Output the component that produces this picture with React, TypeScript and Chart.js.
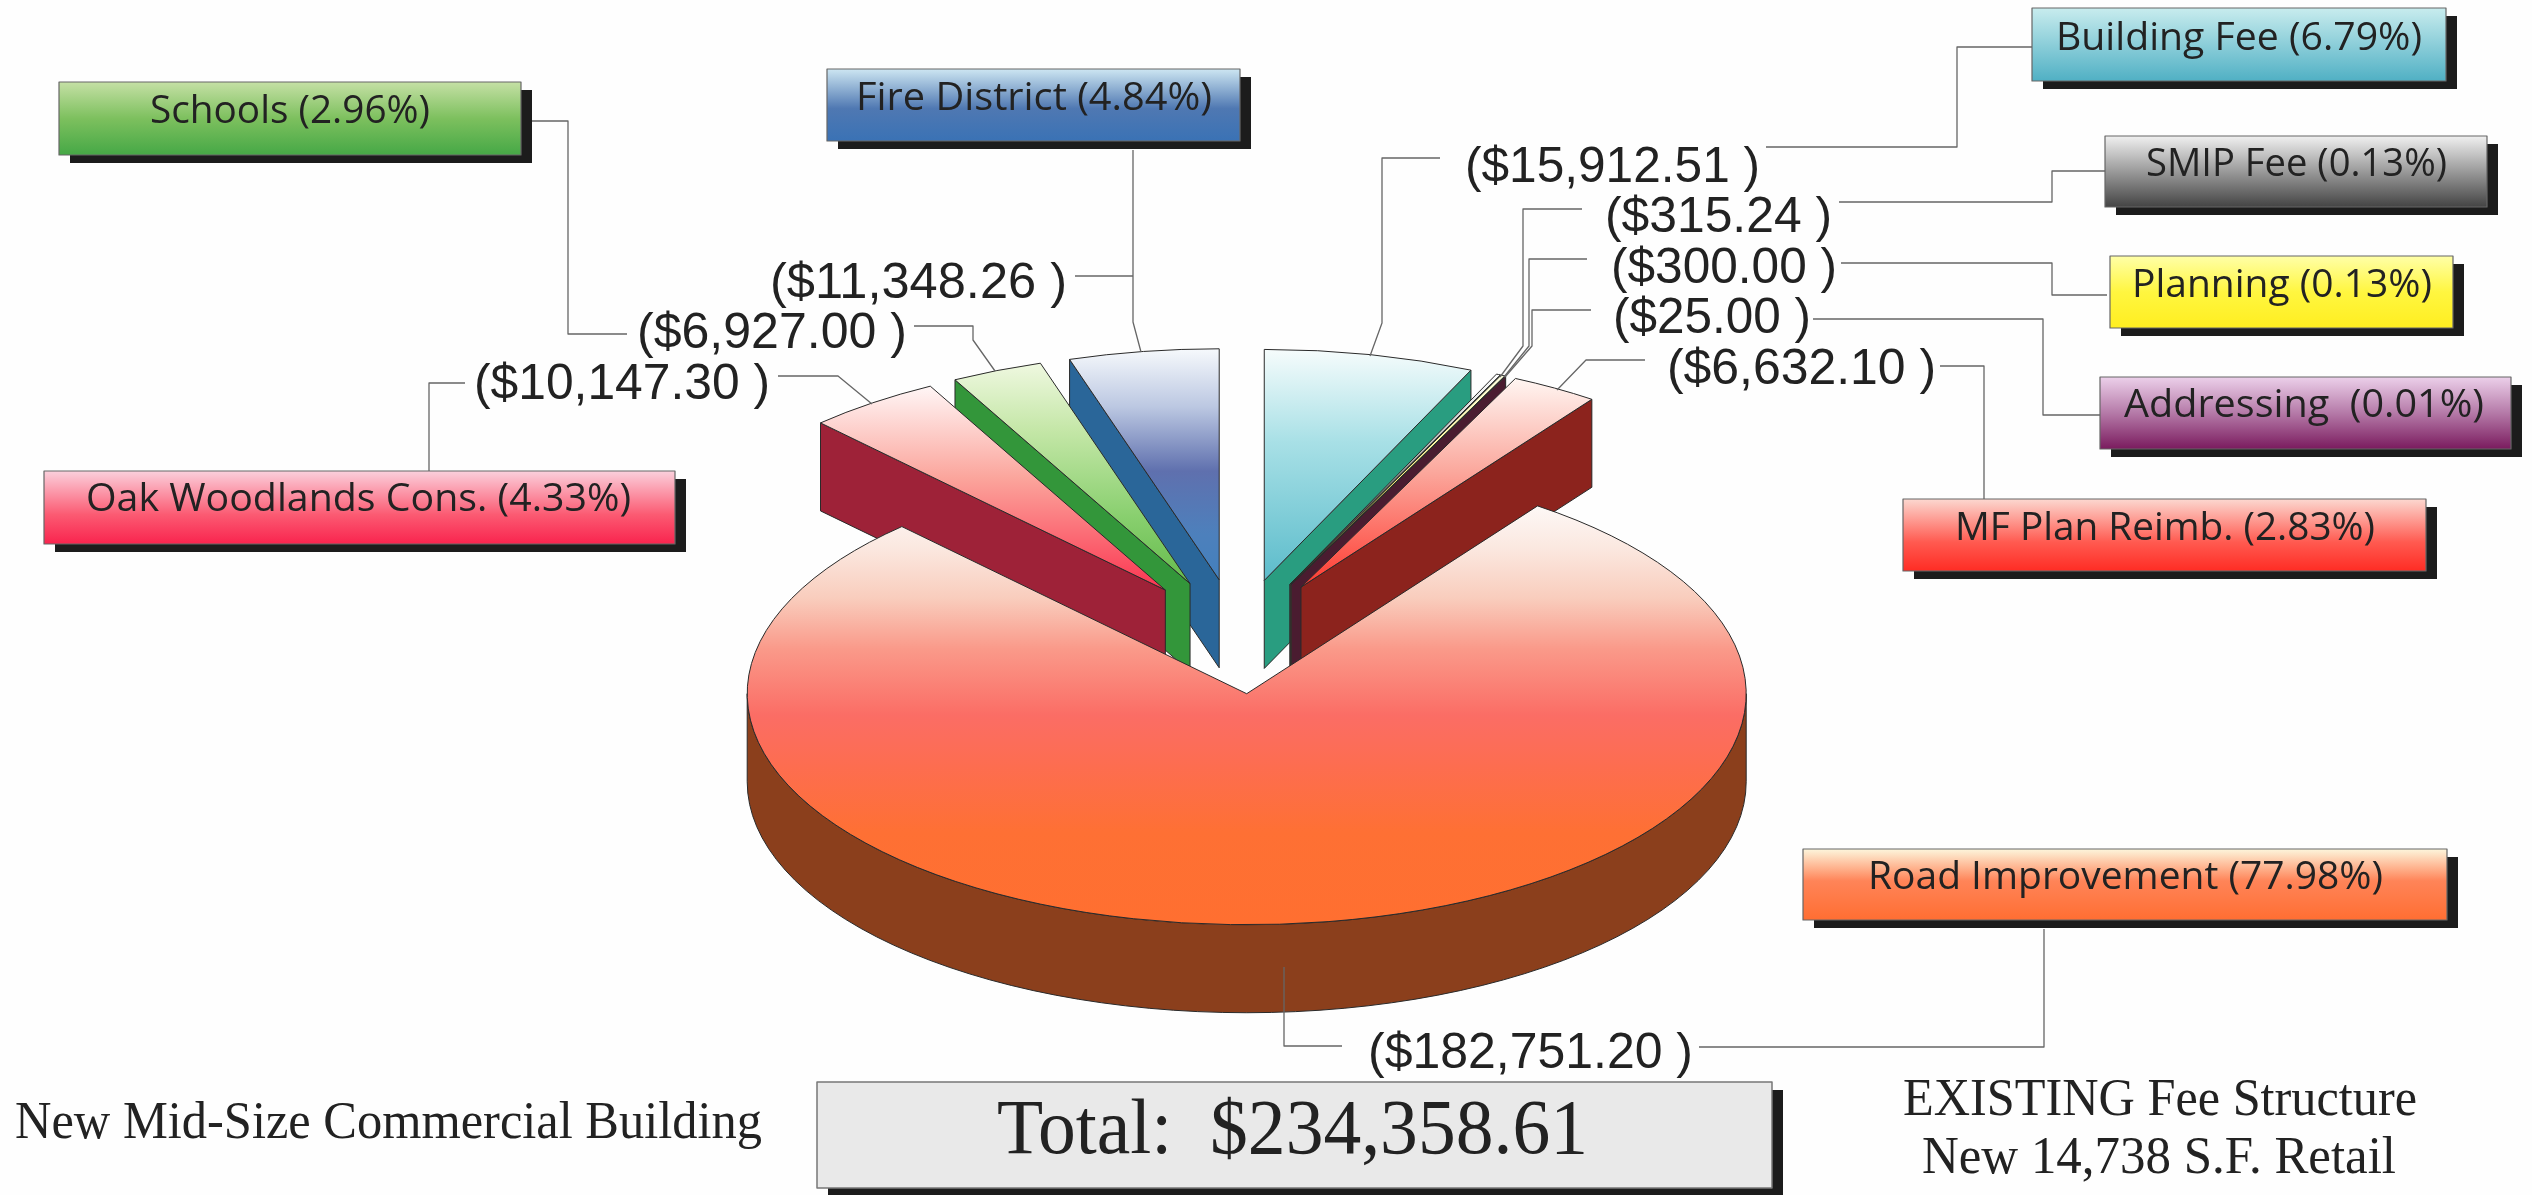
import React, { useEffect, useRef } from "react";
import { Chart, registerables } from "chart.js";

Chart.register(...registerables);

// ---- data ----
const categories = ["Building Fee", "SMIP Fee", "Planning", "Addressing ", "MF Plan Reimb.", "Road Improvement", "Oak Woodlands Cons.", "Schools", "Fire District"];
const feeValues = [15912.51, 315.24, 300.0, 25.0, 6632.1, 182751.2, 10147.3, 6927.0, 11348.26];
const percentLabels = ["6.79", "0.13", "0.13", "0.01", "2.83", "77.98", "4.33", "2.96", "4.84"];
const totalLabel = "Total:  $234,358.61";
const captionLeft = "New Mid-Size Commercial Building";
const captionRight = ["EXISTING Fee Structure", "New 14,738 S.F. Retail"];

// ---- styles ----
const topStops: [number, string][][] = [
  [[0, "#f6fcfc"], [0.4, "#a8e0e6"], [1, "#5cbccb"]],
  [[0, "#ffffff"], [1, "#444444"]],
  [[0, "#ffffe0"], [1, "#ffee20"]],
  [[0, "#f2dcf0"], [1, "#7a1b5e"]],
  [[0, "#fff6f2"], [0.45, "#fba79c"], [1, "#ff3a30"]],
  [[0, "#fdf8f6"], [0.1, "#fbe8e0"], [0.22, "#f9cdbd"], [0.34, "#fa9a8a"], [0.5, "#fb6d65"], [0.62, "#fd6d50"], [0.78, "#fe7034"], [1, "#ff6f30"]],
  [[0, "#fff6f6"], [0.45, "#fba59c"], [1, "#fb3450"]],
  [[0, "#eff8e0"], [0.3, "#c5e7a8"], [0.7, "#88cf6e"], [1, "#65bb4c"]],
  [[0, "#f6f9fc"], [0.25, "#bcc8e2"], [0.53, "#5f70ae"], [0.8, "#4d80bc"], [1, "#4380bc"]],
];
const wallColors = ["#299d80", "#555555", "#a5a020", "#4a1c30", "#8c231d", "#8b3f1c", "#9e2238", "#33963a", "#2a6699"];
const boxStops: [number, string][][] = [
  [[0, "#c8ecee"], [1, "#50b0c4"]],
  [[0, "#f0f0f0"], [1, "#444444"]],
  [[0, "#ffffa8"], [0.5, "#fff640"], [1, "#ffee20"]],
  [[0, "#ecd0ea"], [0.5, "#b57aa8"], [1, "#7a1b5e"]],
  [[0, "#fcd8d0"], [0.6, "#ff5a50"], [1, "#ff2c24"]],
  [[0, "#fdf6dc"], [0.45, "#ff8458"], [1, "#ff6e32"]],
  [[0, "#fbd0dc"], [0.6, "#fb5a72"], [1, "#f9244e"]],
  [[0, "#c5e0a5"], [0.5, "#7dc05e"], [1, "#46a846"]],
  [[0, "#cde6f2"], [0.55, "#4f78b2"], [1, "#3a72b5"]],
];

// ---- layout (page pixels) ----
const boxRects = [
  [2032, 8, 414, 73], [2105, 136, 382, 71], [2110, 256, 343, 72], [2100, 377, 411, 72],
  [1903, 499, 523, 72], [1803, 849, 644, 71], [44, 471, 631, 73], [59, 82, 462, 73], [827, 69, 413, 72],
];
const boxTextSpans = [
  [2056, 2422, 50], [2146, 2447, 176], [2132, 2432, 297], [2124, 2484, 417],
  [1955, 2375, 540], [1868, 2383, 889], [86, 631, 511], [150, 430, 123], [856, 1212, 110],
];
const valueSpans = [
  [1465, 1760, 182], [1605, 1832, 232], [1611, 1837, 283], [1613, 1811, 333],
  [1667, 1936, 384], [1368, 1693, 1068], [474, 770, 399], [637, 907, 348], [770, 1067, 298],
];
const leaders: number[][][] = [
  [[2033, 47], [1957, 47], [1957, 147], [1766, 147]],
  [[1440, 158], [1382, 158], [1382, 323], [1370, 356]],
  [[2105, 171], [2052, 171], [2052, 202], [1839, 202]],
  [[1582, 209], [1523, 209], [1523, 346], [1500, 377]],
  [[2107, 295], [2052, 295], [2052, 263], [1841, 263]],
  [[1587, 259], [1529, 259], [1529, 346], [1504, 377]],
  [[2109, 415], [2043, 415], [2043, 319], [1813, 319]],
  [[1591, 310], [1532, 310], [1532, 346], [1505, 377]],
  [[1984, 499], [1984, 366], [1940, 366]],
  [[1645, 360], [1586, 360], [1557, 390]],
  [[2044, 929], [2044, 1047], [1699, 1047]],
  [[1342, 1046], [1284, 1046], [1284, 967]],
  [[429, 471], [429, 383], [465, 383]],
  [[778, 376], [838, 376], [872, 404]],
  [[531, 121], [568, 121], [568, 334], [627, 334]],
  [[914, 326], [973, 326], [973, 340], [995, 371]],
  [[1133, 150], [1133, 322], [1141, 352]],
  [[1075, 276], [1133, 276]],
];
const PIE_RADIUS = 499.5;
const SQUASH = 0.4625;
const EXPLODE = 124;
const DEPTH = 88;
const LABEL_INK = "#222222";

const money = (v: number) =>
  "($" + v.toLocaleString("en-US", { minimumFractionDigits: 2, maximumFractionDigits: 2 }) + " )";

function fitText(ctx: CanvasRenderingContext2D, text: string, x0: number, x1: number, base: number, font: string) {
  ctx.save();
  ctx.font = font;
  ctx.textAlign = "left";
  ctx.textBaseline = "alphabetic";
  ctx.fillStyle = LABEL_INK;
  const w = ctx.measureText(text).width;
  ctx.translate(x0, base);
  ctx.scale((x1 - x0) / w, 1);
  ctx.fillText(text, 0, 0);
  ctx.restore();
}

function gradientOf(ctx: CanvasRenderingContext2D, y0: number, y1: number, stops: [number, string][]) {
  const g = ctx.createLinearGradient(0, y0, 0, y1);
  stops.forEach(([o, c]) => g.addColorStop(o, c));
  return g;
}

function sliceFill(c: any) {
  const chart = c.chart;
  const area = chart.chartArea;
  if (c.type !== "data" || !area) return "#000000";
  const cy = (area.top + area.bottom) / 2;
  const total = feeValues.reduce((a, b) => a + b, 0);
  let before = 0;
  for (let i = 0; i < c.dataIndex; i++) before += feeValues[i];
  const s = -Math.PI / 2 + (before / total) * 2 * Math.PI;
  const e = s + (feeValues[c.dataIndex] / total) * 2 * Math.PI;
  const containsTop = s <= -Math.PI / 2 + 1e-6;
  const top = containsTop ? 1 : Math.max(-Math.sin(s), -Math.sin(e));
  const containsBottom = s < Math.PI / 2 && e > Math.PI / 2;
  return gradientOf(chart.ctx, cy - top * PIE_RADIUS, containsBottom ? cy + PIE_RADIUS : cy, topStops[c.dataIndex]);
}

const pie3d = {
  id: "pie3d",
  beforeDraw(chart: any) {
    const ctx = chart.ctx;
    ctx.save();
    ctx.fillStyle = "#fefefe";
    ctx.fillRect(0, 0, chart.width, chart.height);
    ctx.restore();
  },
  beforeDatasetsDraw(chart: any) {
    const ctx: CanvasRenderingContext2D = chart.ctx;
    const arcs: any[] = chart.getDatasetMeta(0).data;
    const order = arcs
      .map((arc, i) => ({ arc, i, mid: (arc.startAngle + arc.endAngle) / 2 }))
      .sort((a, b) => Math.sin(a.mid) - Math.sin(b.mid));
    ctx.lineJoin = "round";
    for (const { arc, i, mid } of order) {
      const R = arc.outerRadius;
      const kR = R * SQUASH;
      const dx = EXPLODE * Math.cos(mid);
      const dy = EXPLODE * SQUASH * Math.sin(mid);
      const cx = arc.x + dx;
      const cy = arc.y + dy;
      const s = arc.startAngle;
      const e = arc.endAngle;
      const at = (t: number) => [cx + R * Math.cos(t), cy + kR * Math.sin(t)];
      ctx.fillStyle = wallColors[i];
      ctx.strokeStyle = "#2a2a2a";
      ctx.lineWidth = 1;
      const face = (t: number) => {
        const [px, py] = at(t);
        ctx.beginPath();
        ctx.moveTo(cx, cy);
        ctx.lineTo(px, py);
        ctx.lineTo(px, py + DEPTH);
        ctx.lineTo(cx, cy + DEPTH);
        ctx.closePath();
        ctx.fill();
        ctx.stroke();
      };
      if (-Math.cos(s) > 0) face(s);
      if (Math.cos(e) > 0) face(e);
      const a = Math.max(s, 0);
      const b = Math.min(e, Math.PI);
      if (b > a) {
        const [bx, by] = at(b);
        ctx.beginPath();
        ctx.ellipse(cx, cy, R, kR, 0, a, b);
        ctx.lineTo(bx, by + DEPTH);
        ctx.ellipse(cx, cy + DEPTH, R, kR, 0, b, a, true);
        ctx.closePath();
        ctx.fill();
        ctx.stroke();
      }
      ctx.save();
      ctx.translate(dx, cy);
      ctx.scale(1, SQUASH);
      ctx.translate(0, -arc.y);
      arc.draw(ctx);
      ctx.restore();
      ctx.beginPath();
      ctx.moveTo(cx, cy);
      ctx.ellipse(cx, cy, R, kR, 0, s, e);
      ctx.closePath();
      ctx.strokeStyle = "#2a2a2a";
      ctx.lineWidth = 1;
      ctx.stroke();
    }
    return false;
  },
  afterDraw(chart: any) {
    const ctx: CanvasRenderingContext2D = chart.ctx;
    ctx.save();
    ctx.strokeStyle = "#666666";
    ctx.lineWidth = 1.3;
    for (const line of leaders) {
      ctx.beginPath();
      line.forEach(([x, y], i) => (i ? ctx.lineTo(x, y) : ctx.moveTo(x, y)));
      ctx.stroke();
    }
    boxRects.forEach(([x, y, w, h], i) => {
      ctx.fillStyle = "#1c1c1c";
      ctx.fillRect(x + 11, y + 8, w, h);
      ctx.fillStyle = gradientOf(ctx, y, y + h, boxStops[i]);
      ctx.fillRect(x, y, w, h);
      ctx.strokeStyle = "#666666";
      ctx.lineWidth = 1.2;
      ctx.strokeRect(x, y, w, h);
      const [x0, x1, base] = boxTextSpans[i];
      fitText(ctx, `${categories[i]} (${percentLabels[i]}%)`, x0, x1, base, "38px 'Open Sans'");
      const [v0, v1, vb] = valueSpans[i];
      fitText(ctx, money(feeValues[i]), v0, v1, vb, "50px 'Liberation Sans'");
    });
    // total box and captions
    ctx.fillStyle = "#1c1c1c";
    ctx.fillRect(828, 1090, 955, 105);
    ctx.fillStyle = "#e9e9e9";
    ctx.fillRect(817, 1082, 955, 106);
    ctx.strokeStyle = "#777777";
    ctx.lineWidth = 1.5;
    ctx.strokeRect(817, 1082, 955, 106);
    fitText(ctx, totalLabel, 997, 1588, 1153, "78px 'Liberation Serif'");
    fitText(ctx, captionLeft, 15, 762, 1138, "53px 'Liberation Serif'");
    fitText(ctx, captionRight[0], 1903, 2417, 1115, "52px 'Liberation Serif'");
    fitText(ctx, captionRight[1], 1922, 2396, 1173, "52px 'Liberation Serif'");
    ctx.restore();
  },
};

export default function App() {
  const ref = useRef<HTMLCanvasElement | null>(null);
  useEffect(() => {
    document.body.style.margin = "0";
    const chart = new Chart(ref.current as HTMLCanvasElement, {
      type: "pie",
      data: {
        labels: categories,
        datasets: [{ data: feeValues, backgroundColor: sliceFill as any, borderWidth: 0, offset: 0, hoverOffset: 0 }],
      },
      options: {
        responsive: false,
        animation: false,
        events: [],
        radius: PIE_RADIUS,
        layout: { padding: { left: 0, right: 56, top: 78, bottom: 0 } },
        plugins: { legend: { display: false }, tooltip: { enabled: false }, title: { display: false } },
      } as any,
      plugins: [pie3d as any],
    });
    return () => chart.destroy();
  }, []);
  return <canvas ref={ref} width={2532} height={1195} style={{ display: "block" }} />;
}
